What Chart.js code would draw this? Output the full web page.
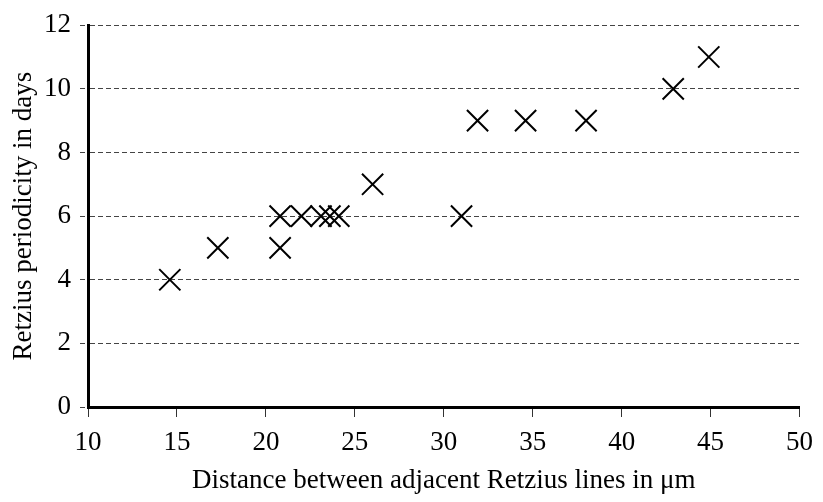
<!DOCTYPE html>
<html>
<head>
<meta charset="utf-8">
<script src="https://cdn.jsdelivr.net/npm/chart.js@4.4.0/dist/chart.umd.min.js"></script>
<style>
  body { margin: 0; background: #fff; }
</style>
</head>
<body>
<canvas id="myChart" width="823" height="502"></canvas>
<script>
// values
var distances = [14.6, 17.3, 20.8, 20.8, 22.0, 23.1, 23.6, 24.1, 26.0, 31.0, 31.9, 34.6, 38.0, 42.9, 44.9];
var periodicity = [4, 5, 5, 6, 6, 6, 6, 6, 7, 6, 9, 9, 9, 10, 11];
var xTicks = [10, 15, 20, 25, 30, 35, 40, 45, 50];
var yTicks = [0, 2, 4, 6, 8, 10, 12];

var points = distances.map(function(d, i) {
  return { x: d, y: periodicity[i] };
});

var serif = "'Liberation Serif', 'Times New Roman', serif";

var ctx = document.getElementById('myChart').getContext('2d');
var myChart = new Chart(ctx, {
  type: 'scatter',
  data: {
    datasets: [{
      data: points,
      pointStyle: 'crossRot',
      pointRadius: 15,
      pointBorderWidth: 2,
      borderColor: '#000',
      backgroundColor: '#000'
    }]
  },
  options: {
    responsive: false,
    animation: false,
    layout: { padding: { top: 20, right: 20, bottom: 0, left: 0 } },
    plugins: {
      legend: { display: false },
      tooltip: { enabled: false }
    },
    scales: {
      x: {
        type: 'linear',
        min: xTicks[0],
        max: xTicks[xTicks.length - 1],
        afterFit: function(scale) { scale.height = 95; },
        afterBuildTicks: function(scale) {
          scale.ticks = xTicks.map(function(v) { return { value: v }; });
        },
        ticks: {
          color: '#000',
          padding: 10,
          font: { family: serif, size: 27 }
        },
        grid: {
          drawOnChartArea: false,
          drawTicks: true,
          tickLength: 10,
          color: '#333',
          lineWidth: 1
        },
        border: { color: '#000', width: 3 },
        title: {
          display: true,
          text: 'Distance between adjacent Retzius lines in \u03bcm',
          color: '#000',
          padding: { top: 0, bottom: 5 },
          font: { family: serif, size: 27 }
        }
      },
      y: {
        type: 'linear',
        min: yTicks[0],
        max: yTicks[yTicks.length - 1],
        afterFit: function(scale) { scale.width = 88; },
        afterBuildTicks: function(scale) {
          scale.ticks = yTicks.map(function(v) { return { value: v }; });
        },
        ticks: {
          color: '#000',
          padding: 9,
          font: { family: serif, size: 27 }
        },
        grid: {
          color: '#444',
          lineWidth: 1,
          tickBorderDash: [5, 3],
          drawTicks: true,
          tickLength: 8
        },
        // in v4 the grid line dash lives under border
        border: { color: '#000', width: 3, dash: [5, 3] },
        title: {
          display: true,
          text: 'Retzius periodicity in days',
          color: '#000',
          padding: { top: 8, bottom: 0 },
          font: { family: serif, size: 27 }
        }
      }
    }
  }
});
</script>
</body>
</html>
